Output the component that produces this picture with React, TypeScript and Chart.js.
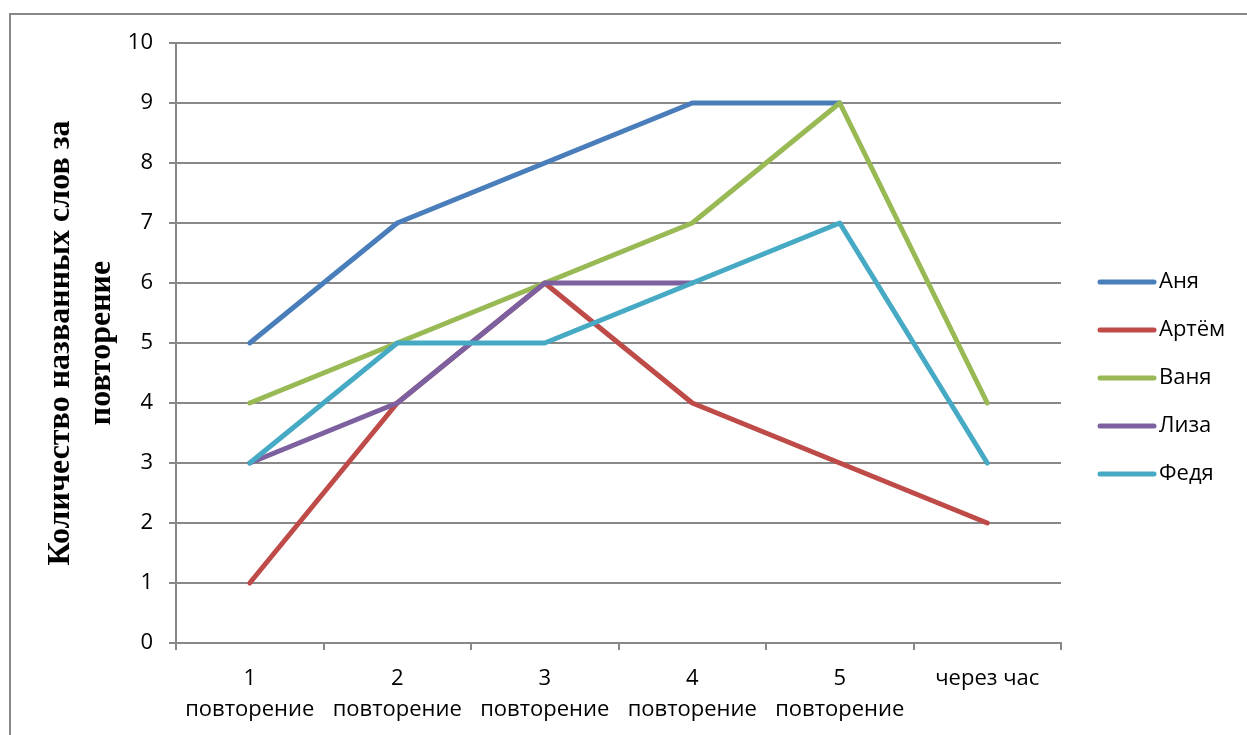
import React, { useEffect, useRef } from "react";
import { Chart, registerables } from "chart.js";

Chart.register(...registerables);

const categories: (string | string[])[] = [
  ["1", "повторение"],
  ["2", "повторение"],
  ["3", "повторение"],
  ["4", "повторение"],
  ["5", "повторение"],
  "через час",
];
const seriesNames = ["Аня", "Артём", "Ваня", "Лиза", "Федя"];
const anya = [5, 7, 8, 9, 9, null];
const artem = [1, 4, 6, 4, 3, 2];
const vanya = [4, 5, 6, 7, 9, 4];
const liza = [3, 4, 6, 6, null, null];
const fedya = [3, 5, 5, 6, 7, 3];
const seriesColors = ["#4A7EBB", "#BE4B48", "#98B954", "#7D60A0", "#46AAC5"];
const yTicks = [0, 1, 2, 3, 4, 5, 6, 7, 8, 9, 10];
const yTitle = ["Количество названных слов за", "повторение"];

const GRID = "#888888";
const TICK_FONT = { family: "'Open Sans', sans-serif", size: 22, lineHeight: 1.41 };

const framePlugin = {
  id: "frameAndLegend",
  beforeDraw(chart: any) {
    const ctx = chart.ctx;
    ctx.save();
    ctx.fillStyle = "#ffffff";
    ctx.fillRect(0, 0, chart.width, chart.height);
    ctx.strokeStyle = GRID;
    ctx.lineWidth = 2;
    ctx.strokeRect(10, 14, chart.width + 20, chart.height + 20);
    ctx.restore();
  },
  afterDraw(chart: any) {
    const ctx = chart.ctx;
    const area = chart.chartArea;
    const ds = chart.data.datasets;
    const x0 = area.right + 39;
    const cy = 378;
    const step = 48;
    ctx.save();
    ctx.font = "22px 'Open Sans', sans-serif";
    ctx.textBaseline = "middle";
    ctx.textAlign = "left";
    ds.forEach((d: any, i: number) => {
      const y = cy + (i - (ds.length - 1) / 2) * step;
      ctx.strokeStyle = d.borderColor;
      ctx.lineWidth = 5;
      ctx.lineCap = "round";
      ctx.beginPath();
      ctx.moveTo(x0, y);
      ctx.lineTo(x0 + 54, y);
      ctx.stroke();
      ctx.fillStyle = "#000";
      ctx.fillText(d.label, x0 + 59, y);
    });
    ctx.restore();
  },
};

export default function App() {
  const ref = useRef<HTMLCanvasElement | null>(null);

  useEffect(() => {
    if (!ref.current) return;
    const values = [anya, artem, vanya, liza, fedya];
    const chart = new Chart(ref.current, {
      type: "line",
      data: {
        labels: categories,
        datasets: seriesNames.map((name, i) => ({
          label: name,
          data: values[i],
          borderColor: seriesColors[i],
          backgroundColor: seriesColors[i],
          borderWidth: 5,
          borderCapStyle: "round",
          borderJoinStyle: "round",
          pointRadius: 0,
          pointHoverRadius: 0,
          tension: 0,
          spanGaps: false,
          fill: false,
          order: seriesNames.length - 1 - i,
        })),
      },
      options: {
        responsive: false,
        animation: false,
        devicePixelRatio: 1,
        layout: { padding: { top: 43, right: 186, bottom: 0, left: 0 } },
        plugins: {
          legend: { display: false },
          tooltip: { enabled: false },
        },
        scales: {
          x: {
            type: "category",
            offset: true,
            grid: {
              offset: true,
              drawOnChartArea: false,
              drawTicks: true,
              tickLength: 7,
              color: GRID,
              lineWidth: 2,
            },
            border: { display: true, color: GRID, width: 2 },
            ticks: {
              autoSkip: false,
              maxRotation: 0,
              minRotation: 0,
              padding: 13,
              color: "#000",
              font: TICK_FONT,
            },
            afterFit(scale: any) {
              scale.height = 92;
            },
          },
          y: {
            min: yTicks[0],
            max: yTicks[yTicks.length - 1],
            afterBuildTicks(scale: any) {
              scale.ticks = yTicks.map((v) => ({ value: v }));
            },
            grid: { color: GRID, lineWidth: 2, tickLength: 7, drawTicks: true },
            border: { display: true, color: GRID, width: 2 },
            ticks: { padding: 16, color: "#000", font: TICK_FONT },
            title: {
              display: true,
              text: yTitle,
              color: "#000",
              font: { family: "'Liberation Serif', serif", size: 32, weight: "bold", lineHeight: 1.28 },
              padding: { top: 40, bottom: 0 },
            },
            afterFit(scale: any) {
              scale.width = 176;
            },
          },
        },
      },
      plugins: [framePlugin],
    } as any);
    return () => chart.destroy();
  }, []);

  return (
    <canvas
      ref={ref}
      width={1247}
      height={735}
      style={{ position: "fixed", left: 0, top: 0, display: "block", width: 1247, height: 735 }}
    />
  );
}
